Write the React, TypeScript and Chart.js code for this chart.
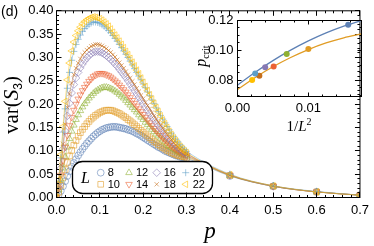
import React, { useEffect, useRef } from 'react';
import { Chart, registerables } from 'chart.js';
import { drawPoint } from 'chart.js/helpers';

Chart.register(...registerables);

const SANS = '"Liberation Sans", Arial, Helvetica, sans-serif';
const SERIF = '"Liberation Serif", "Times New Roman", Times, serif';

// ---------- main panel data ----------
const P_VALUES = [
  0, 0.005, 0.01, 0.015, 0.02, 0.025, 0.03, 0.035, 0.04, 0.045,
  0.05, 0.055, 0.06, 0.065, 0.07, 0.075, 0.08, 0.085, 0.09, 0.095,
  0.1, 0.105, 0.11, 0.115, 0.12, 0.125, 0.13, 0.135, 0.14, 0.145,
  0.15, 0.155, 0.16, 0.165, 0.17, 0.175, 0.18, 0.185, 0.19, 0.195,
  0.2, 0.205, 0.21, 0.215, 0.22, 0.225, 0.23, 0.235, 0.24, 0.245,
  0.25, 0.255, 0.26, 0.265, 0.27, 0.275, 0.28, 0.285, 0.29, 0.295,
  0.3,
  0.4, 0.5, 0.6, 0.7,
];

const VAR_L8 = [
  0, 0.006, 0.014, 0.024, 0.035, 0.046, 0.056, 0.066, 0.074, 0.082,
  0.09, 0.097, 0.104, 0.11, 0.116, 0.121, 0.126, 0.131, 0.135, 0.139,
  0.142, 0.145, 0.147, 0.149, 0.15, 0.151, 0.1515, 0.1515, 0.151, 0.15,
  0.149, 0.148, 0.147, 0.145, 0.144, 0.142, 0.14, 0.137, 0.135, 0.132,
  0.129, 0.126, 0.123, 0.12, 0.117, 0.114, 0.111, 0.108, 0.106, 0.103,
  0.1, 0.098, 0.096, 0.094, 0.092, 0.09, 0.089, 0.087, 0.086, 0.085,
  0.084,
  0.046, 0.024, 0.012, 0.005,
];
const VAR_L10 = [
  0, 0.011, 0.026, 0.043, 0.06, 0.075, 0.089, 0.101, 0.112, 0.122,
  0.131, 0.139, 0.146, 0.152, 0.158, 0.163, 0.168, 0.172, 0.176, 0.179,
  0.182, 0.184, 0.186, 0.187, 0.187, 0.187, 0.186, 0.184, 0.182, 0.18,
  0.177, 0.174, 0.171, 0.167, 0.164, 0.16, 0.156, 0.152, 0.148, 0.144,
  0.14, 0.136, 0.132, 0.128, 0.124, 0.12, 0.117, 0.113, 0.11, 0.107,
  0.104, 0.101, 0.099, 0.096, 0.094, 0.092, 0.09, 0.089, 0.088, 0.087,
  0.086,
  0.047, 0.024, 0.012, 0.005,
];
const VAR_L12 = [
  0, 0.016, 0.038, 0.063, 0.087, 0.108, 0.126, 0.142, 0.155, 0.167,
  0.177, 0.186, 0.194, 0.201, 0.207, 0.213, 0.218, 0.223, 0.227, 0.23,
  0.233, 0.235, 0.236, 0.236, 0.235, 0.233, 0.231, 0.228, 0.225, 0.221,
  0.217, 0.213, 0.208, 0.203, 0.198, 0.193, 0.188, 0.183, 0.177, 0.172,
  0.167, 0.161, 0.156, 0.151, 0.146, 0.141, 0.136, 0.132, 0.127, 0.123,
  0.119, 0.115, 0.111, 0.108, 0.104, 0.101, 0.098, 0.096, 0.093, 0.091,
  0.089,
  0.047, 0.024, 0.012, 0.005,
];
const VAR_L14 = [
  0, 0.02, 0.048, 0.079, 0.108, 0.133, 0.154, 0.172, 0.187, 0.2,
  0.211, 0.22, 0.229, 0.236, 0.243, 0.249, 0.254, 0.259, 0.262, 0.265,
  0.266, 0.266, 0.265, 0.263, 0.261, 0.258, 0.254, 0.25, 0.246, 0.241,
  0.236, 0.231, 0.226, 0.22, 0.214, 0.208, 0.202, 0.196, 0.19, 0.184,
  0.178, 0.172, 0.166, 0.16, 0.154, 0.148, 0.143, 0.138, 0.133, 0.128,
  0.123, 0.119, 0.115, 0.111, 0.107, 0.103, 0.1, 0.097, 0.094, 0.092,
  0.09,
  0.048, 0.024, 0.012, 0.005,
];
const VAR_L16 = [
  0, 0.026, 0.063, 0.104, 0.142, 0.175, 0.202, 0.224, 0.242, 0.256,
  0.268, 0.278, 0.286, 0.293, 0.299, 0.304, 0.308, 0.311, 0.3125, 0.3125,
  0.312, 0.31, 0.307, 0.304, 0.3, 0.296, 0.291, 0.286, 0.281, 0.275,
  0.269, 0.263, 0.257, 0.25, 0.243, 0.236, 0.229, 0.222, 0.215, 0.208,
  0.201, 0.194, 0.187, 0.18, 0.173, 0.167, 0.16, 0.154, 0.148, 0.142,
  0.136, 0.131, 0.126, 0.121, 0.116, 0.112, 0.107, 0.103, 0.1, 0.096,
  0.093,
  0.048, 0.024, 0.012, 0.005,
];
const VAR_L18 = [
  0, 0.03, 0.07, 0.115, 0.157, 0.193, 0.222, 0.245, 0.263, 0.277,
  0.288, 0.297, 0.305, 0.311, 0.316, 0.32, 0.324, 0.326, 0.328, 0.328,
  0.327, 0.325, 0.322, 0.319, 0.315, 0.311, 0.306, 0.301, 0.295, 0.289,
  0.283, 0.277, 0.27, 0.263, 0.256, 0.249, 0.242, 0.234, 0.227, 0.219,
  0.212, 0.204, 0.197, 0.19, 0.182, 0.175, 0.168, 0.161, 0.154, 0.148,
  0.141, 0.135, 0.129, 0.124, 0.118, 0.113, 0.109, 0.104, 0.1, 0.097,
  0.094,
  0.048, 0.025, 0.012, 0.005,
];
const VAR_L20 = [
  0, 0.035, 0.085, 0.14, 0.19, 0.234, 0.268, 0.294, 0.313, 0.328,
  0.339, 0.348, 0.356, 0.362, 0.367, 0.371, 0.374, 0.376, 0.376, 0.375,
  0.373, 0.37, 0.367, 0.363, 0.358, 0.353, 0.347, 0.341, 0.335, 0.328,
  0.321, 0.314, 0.307, 0.3, 0.292, 0.284, 0.276, 0.268, 0.26, 0.252,
  0.243, 0.235, 0.226, 0.218, 0.209, 0.201, 0.192, 0.184, 0.176, 0.168,
  0.16, 0.152, 0.145, 0.138, 0.131, 0.125, 0.119, 0.113, 0.108, 0.103,
  0.099,
  0.05, 0.025, 0.013, 0.005,
];
const VAR_L22 = [
  0, 0.038, 0.092, 0.152, 0.206, 0.252, 0.288, 0.314, 0.333, 0.347,
  0.357, 0.365, 0.372, 0.377, 0.381, 0.384, 0.386, 0.387, 0.386, 0.385,
  0.383, 0.38, 0.376, 0.372, 0.367, 0.361, 0.354, 0.348, 0.342, 0.335,
  0.328, 0.321, 0.313, 0.306, 0.298, 0.29, 0.282, 0.273, 0.265, 0.256,
  0.247, 0.238, 0.229, 0.22, 0.211, 0.202, 0.193, 0.184, 0.175, 0.166,
  0.158, 0.15, 0.142, 0.135, 0.128, 0.122, 0.116, 0.11, 0.105, 0.1,
  0.096,
  0.049, 0.025, 0.012, 0.005,
];

const SIZES = ['8', '10', '12', '14', '16', '18', '20', '22'];
const SERIES = [VAR_L8, VAR_L10, VAR_L12, VAR_L14, VAR_L16, VAR_L18, VAR_L20, VAR_L22];
const COLORS = ['#5E81B5', '#E19C24', '#8FB032', '#EB6235', '#8778B3', '#C56E1A', '#5D9EC7', '#FFBF00'];
const MARKERS = ['circle', 'rect', 'triangle', 'triangle', 'rectRot', 'crossRot', 'cross', 'triangle'];
const ROTATIONS = [0, 0, 0, 180, 0, 0, 0, -90];
const RADII = [3.4, 4.0, 3.8, 3.8, 3.8, 3.0, 3.5, 3.8];

// ---------- inset data ----------
const INV_L2 = [0.015625, 0.01, 0.006944, 0.005102, 0.003906, 0.003086, 0.0025, 0.002066];
const P_CRIT = [0.1171, 0.1009, 0.0976, 0.0892, 0.0887, 0.0829, 0.0845, 0.08];
const FIT_X = [0, 0.0025, 0.005, 0.0075, 0.01, 0.0125, 0.015, 0.0175];
const FIT_BLUE = [0.0766, 0.08525, 0.09309, 0.1001, 0.1063, 0.11168, 0.11624, 0.11998];
const FIT_ORANGE = [0.0737, 0.08177, 0.08893, 0.09517, 0.1005, 0.10492, 0.10842, 0.11101];

function withAlpha(hex: string, a: number) {
  const r = parseInt(hex.slice(1, 3), 16);
  const g = parseInt(hex.slice(3, 5), 16);
  const b = parseInt(hex.slice(5, 7), 16);
  return `rgba(${r},${g},${b},${a})`;
}

// frame with inward ticks on all four sides
const framePlugin = {
  id: 'frameTicks',
  afterDraw(chart: any, _args: any, opts: any) {
    const { ctx, chartArea: a } = chart;
    const xs = chart.scales.x;
    const ys = chart.scales.y;
    const L = a.left, R = a.right, T = a.top, B = a.bottom;
    ctx.save();
    ctx.strokeStyle = '#000';
    ctx.lineWidth = 1;
    const line = (x1: number, y1: number, x2: number, y2: number) => {
      ctx.beginPath();
      ctx.moveTo(x1, y1);
      ctx.lineTo(x2, y2);
      ctx.stroke();
    };
    const isMajor = (v: number, m: number) => Math.abs(v / m - Math.round(v / m)) < 1e-6;
    const kx0 = Math.ceil(xs.min / opts.xMinor - 1e-6);
    for (let k = kx0; k * opts.xMinor <= xs.max + 1e-9; k++) {
      const v = k * opts.xMinor;
      const len = isMajor(v, opts.xMajor) ? opts.major : opts.minor;
      const px = Math.floor(xs.getPixelForValue(v)) + 0.5;
      line(px, B, px, B - len);
      line(px, T, px, T + len);
    }
    const ky0 = Math.ceil(ys.min / opts.yMinor - 1e-6);
    for (let k = ky0; k * opts.yMinor <= ys.max + 1e-9; k++) {
      const v = k * opts.yMinor;
      const len = isMajor(v, opts.yMajor) ? opts.major : opts.minor;
      const py = Math.floor(ys.getPixelForValue(v)) + 0.5;
      line(L, py, L + len, py);
      line(R, py, R - len, py);
    }
    ctx.strokeRect(L, T, R - L, B - T);
    ctx.restore();
  },
};

// rounded-box legend inside the plot
const legendBoxPlugin = {
  id: 'legendBox',
  afterDatasetsDraw(chart: any) {
    const ctx = chart.ctx;
    ctx.save();
    const x0 = 72.5, y0 = 161.5, w = 140, h = 32, r = 10;
    ctx.beginPath();
    ctx.moveTo(x0 + r, y0);
    ctx.lineTo(x0 + w - r, y0);
    ctx.arcTo(x0 + w, y0, x0 + w, y0 + r, r);
    ctx.lineTo(x0 + w, y0 + h - r);
    ctx.arcTo(x0 + w, y0 + h, x0 + w - r, y0 + h, r);
    ctx.lineTo(x0 + r, y0 + h);
    ctx.arcTo(x0, y0 + h, x0, y0 + h - r, r);
    ctx.lineTo(x0, y0 + r);
    ctx.arcTo(x0, y0, x0 + r, y0, r);
    ctx.closePath();
    ctx.fillStyle = '#fff';
    ctx.fill();
    ctx.lineWidth = 1.3;
    ctx.strokeStyle = '#000';
    ctx.stroke();

    ctx.fillStyle = '#000';
    ctx.font = `italic 16px ${SERIF}`;
    ctx.textBaseline = 'middle';
    ctx.textAlign = 'left';
    ctx.fillText('L', 81, 178.5);

    const colX = [100.7, 129, 156.7, 185.7];
    const rowY = [172.7, 184.3];
    chart.data.datasets.forEach((ds: any, i: number) => {
      const mx = colX[Math.floor(i / 2)];
      const my = rowY[i % 2];
      ctx.strokeStyle = ds.pointBorderColor;
      ctx.fillStyle = 'rgba(0,0,0,0)';
      ctx.lineWidth = ds.pointBorderWidth;
      drawPoint(ctx, { pointStyle: ds.pointStyle, rotation: ds.pointRotation, radius: ds.pointRadius, borderWidth: ds.pointBorderWidth }, mx, my);
      ctx.fillStyle = '#000';
      ctx.font = `11px ${SANS}`;
      ctx.fillText(ds.label, mx + 7, my + 0.5);
    });
    ctx.restore();
  },
};

export default function App() {
  const mainRef = useRef<HTMLCanvasElement>(null);
  const insetRef = useRef<HTMLCanvasElement>(null);

  useEffect(() => {
    const datasets = SIZES.map((lab, i) => ({
      label: lab,
      data: P_VALUES.map((p, j) => ({ x: p, y: SERIES[i][j] })),
      showLine: true,
      borderColor: withAlpha(COLORS[i], 0.5),
      borderWidth: 0.9,
      cubicInterpolationMode: 'monotone',
      pointStyle: MARKERS[i],
      pointRotation: ROTATIONS[i],
      pointRadius: RADII[i],
      pointBorderWidth: 0.8,
      pointBorderColor: withAlpha(COLORS[i], 0.72),
      pointBackgroundColor: 'rgba(0,0,0,0)',
      order: -i,
    }));

    const main = new Chart(mainRef.current as HTMLCanvasElement, {
      type: 'scatter',
      data: { datasets } as any,
      plugins: [legendBoxPlugin, framePlugin],
      options: {
        responsive: false,
        maintainAspectRatio: false,
        animation: false,
        events: [],
        layout: { padding: { top: 9.5, right: 10.5, left: 0, bottom: 0 } },
        plugins: {
          legend: { display: false },
          tooltip: { enabled: false },
          frameTicks: { xMinor: 0.02, xMajor: 0.1, yMinor: 0.01, yMajor: 0.05, major: 5, minor: 2.5 },
        } as any,
        scales: {
          x: {
            type: 'linear',
            min: 0,
            max: 0.7,
            grid: { display: false, drawTicks: false },
            border: { display: false },
            ticks: {
              stepSize: 0.1,
              padding: 5,
              color: '#000',
              font: { family: SANS, size: 13 },
              maxRotation: 0,
              autoSkip: false,
              callback: (v: any) => Number(v).toFixed(1),
            },
            afterFit: (s: any) => { s.height = 48.5; },
          },
          y: {
            type: 'linear',
            min: 0,
            max: 0.4,
            grid: { display: false, drawTicks: false },
            border: { display: false },
            ticks: {
              stepSize: 0.05,
              padding: 3,
              color: '#000',
              font: { family: SANS, size: 13 },
              autoSkip: false,
              callback: (v: any) => Number(v).toFixed(2),
            },
            afterFit: (s: any) => { s.width = 56.5; },
          },
        },
      } as any,
    });

    const inset = new Chart(insetRef.current as HTMLCanvasElement, {
      type: 'scatter',
      data: {
        datasets: [
          {
            label: 'pts',
            data: INV_L2.map((x, i) => ({ x, y: P_CRIT[i] })),
            pointRadius: 3,
            pointBorderWidth: 0,
            pointBackgroundColor: COLORS,
            showLine: false,
            order: -1,
          },
          {
            label: 'fitBlue',
            data: FIT_X.map((x, i) => ({ x, y: FIT_BLUE[i] })),
            showLine: true,
            pointRadius: 0,
            borderColor: '#5E81B5',
            borderWidth: 1.3,
            cubicInterpolationMode: 'monotone',
            order: 1,
          },
          {
            label: 'fitOrange',
            data: FIT_X.map((x, i) => ({ x, y: FIT_ORANGE[i] })),
            showLine: true,
            pointRadius: 0,
            borderColor: '#E19C24',
            borderWidth: 1.3,
            cubicInterpolationMode: 'monotone',
            order: 1,
          },
        ],
      } as any,
      plugins: [framePlugin],
      options: {
        responsive: false,
        maintainAspectRatio: false,
        animation: false,
        events: [],
        layout: { padding: { top: 15.5, right: 10.5, left: 0, bottom: 0 } },
        plugins: {
          legend: { display: false },
          tooltip: { enabled: false },
          frameTicks: { xMinor: 0.002, xMajor: 0.01, yMinor: 0.005, yMajor: 0.02, major: 4, minor: 2 },
        } as any,
        scales: {
          x: {
            type: 'linear',
            min: 0,
            max: 0.0175,
            grid: { display: false, drawTicks: false },
            border: { display: false },
            ticks: {
              stepSize: 0.01,
              includeBounds: false,
              padding: 4,
              color: '#000',
              font: { family: SANS, size: 13 },
              maxRotation: 0,
              autoSkip: false,
              callback: (v: any) => Number(v).toFixed(2),
            },
            afterFit: (s: any) => { s.height = 43.5; },
          },
          y: {
            type: 'linear',
            min: 0.069,
            max: 0.12,
            grid: { display: false, drawTicks: false },
            border: { display: false },
            ticks: {
              stepSize: 0.02,
              includeBounds: false,
              padding: 4,
              color: '#000',
              font: { family: SANS, size: 13 },
              autoSkip: false,
              callback: (v: any) => Number(v).toFixed(2),
            },
            afterFit: (s: any) => { s.width = 52.5; },
          },
        },
      } as any,
    });

    return () => {
      main.destroy();
      inset.destroy();
    };
  }, []);

  return (
    <div style={{ position: 'fixed', left: 0, top: 0, width: 374, height: 246, background: '#fff', overflow: 'hidden' }}>
      <canvas ref={mainRef} width={374} height={246} style={{ position: 'absolute', left: 0, top: 0, width: 374, height: 246 }} />
      <canvas ref={insetRef} width={187} height={135} style={{ position: 'absolute', left: 185, top: 5, width: 187, height: 135 }} />
      <div style={{ position: 'absolute', left: 1, top: 3, font: `14px ${SANS}`, lineHeight: '16px', color: '#000' }}>(d)</div>
      <div
        style={{
          position: 'absolute', left: -39, top: 93, width: 100, height: 24, lineHeight: '24px',
          textAlign: 'center', transform: 'rotate(-90deg)', font: `21px ${SERIF}`, color: '#000', whiteSpace: 'nowrap',
        }}
      >
        var(<i>S</i><span style={{ fontFamily: SANS, fontSize: 12, position: 'relative', top: 4 }}>3</span>)
      </div>
      <div style={{ position: 'absolute', left: 200, top: 220, width: 20, textAlign: 'center', font: `italic 23px ${SERIF}`, lineHeight: '22px', color: '#000' }}>p</div>
      <div
        style={{
          position: 'absolute', left: 181, top: 47, width: 40, height: 18, lineHeight: '18px', textAlign: 'center',
          transform: 'rotate(-90deg)', font: `16px ${SERIF}`, color: '#000', whiteSpace: 'nowrap',
        }}
      >
        <i>p</i><span style={{ fontSize: 10, position: 'relative', top: 3 }}>crit</span>
      </div>
      <div style={{ position: 'absolute', left: 279, top: 118, width: 40, textAlign: 'center', font: `15px ${SERIF}`, lineHeight: '16px', color: '#000', whiteSpace: 'nowrap' }}>
        1/<i>L</i><span style={{ fontSize: 10, position: 'relative', top: -6 }}>2</span>
      </div>
    </div>
  );
}
